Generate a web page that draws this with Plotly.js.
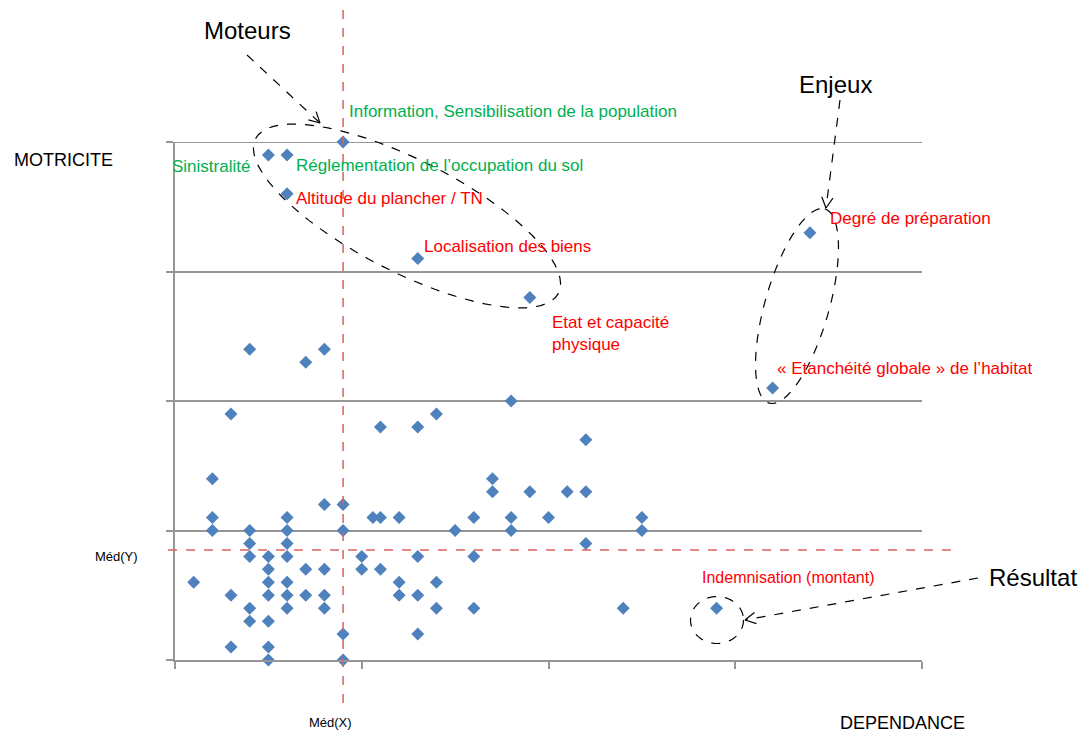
<!DOCTYPE html>
<html>
<head>
<meta charset="utf-8">
<script src="https://cdn.plot.ly/plotly-3.0.1.min.js"></script>
<style>html,body{margin:0;padding:0;background:#fff;}</style>
</head>
<body>
<div id="chart" style="width:1083px;height:735px;"></div>
<script>
// DEPENDANCE (x) and MOTRICITE (y) of each variable
const dependance = [3,11,13,14,2,2,2,8,9,6,10.6,11,12,4,6,9,15,4,6,4,5,6,10,13,5,7,8,10,11,1,5,6,12,14,3,5,6,7,8,12,13,4,6,8,14,4,5,9,13,3,5,5,9,18,22,17,17,19,21,22,16,18,20,25,18,25,22,16,16,24,9,5,6,6,13,19,4,7,8,34,32,29];
const motricite  = [19,18,18,19,14,11,10,12,12,11,11,11,11,10,10,10,10,9,9,8,8,8,8,8,7,7,7,7,7,6,6,6,6,6,5,5,5,5,5,5,5,4,4,4,4,3,3,2,2,1,1,0,0,20,17,14,13,13,13,13,11,11,11,11,10,10,9,8,4,4,40,39,39,36,31,28,24,23,24,33,21,4];
const medX = 9;
const medY = 8.5;
const xTicks = [0,10,20,30,40];
const yTicks = [0,10,20,30,40];

// plot area in pixels (for decorations)
const L = 175, R = 922, T = 142, B = 660;
function P(px, py){ return [(px-L)/(R-L), (B-py)/(B-T)]; }

function ellipsePath(cx, cy, a, b, deg){
  const th = deg*Math.PI/180; let s = '';
  for(let i=0;i<=72;i++){
    const t = i/72*2*Math.PI;
    const px = cx + a*Math.cos(t)*Math.cos(th) - b*Math.sin(t)*Math.sin(th);
    const py = cy + a*Math.cos(t)*Math.sin(th) + b*Math.sin(t)*Math.cos(th);
    const p = P(px, py);
    s += (i===0?'M':'L') + p[0].toFixed(5) + ',' + p[1].toFixed(5) + ' ';
  }
  return s + 'Z';
}

const GRID = '#969696';
const shapes = [];
// top grid line at y = 40
shapes.push({type:'line', xref:'paper', yref:'y', x0:0, x1:1, y0:yTicks[yTicks.length-1], y1:yTicks[yTicks.length-1],
  line:{color:GRID, width:2}, layer:'below'});

function dashedLine(x0,y0,x1,y1){
  const a = P(x0,y0), b = P(x1,y1);
  shapes.push({type:'line', xref:'paper', yref:'paper', x0:a[0], y0:a[1], x1:b[0], y1:b[1],
    line:{color:'#000', width:1.2, dash:'dash'}});
}
function arrow(x0,y0,x1,y1){
  dashedLine(x0,y0,x1,y1);
  const dx = x1-x0, dy = y1-y0, len = Math.hypot(dx,dy);
  const ux = dx/len, uy = dy/len, Lh = 12, ang = 28*Math.PI/180;
  [ang,-ang].forEach(g=>{
    const rx = ux*Math.cos(g) - uy*Math.sin(g), ry = ux*Math.sin(g) + uy*Math.cos(g);
    const a = P(x1,y1), b = P(x1 - Lh*rx, y1 - Lh*ry);
    shapes.push({type:'line', xref:'paper', yref:'paper', x0:a[0], y0:a[1], x1:b[0], y1:b[1],
      line:{color:'#000', width:1.2}});
  });
}

// median lines
shapes.push({type:'line', xref:'x', yref:'paper', x0:medX, x1:medX, y0:P(0,10)[1], y1:P(0,712)[1],
  line:{color:'#d9625e', width:1.5, dash:'dash'}});
shapes.push({type:'line', xref:'paper', yref:'y', x0:P(168,0)[0], x1:P(958,0)[0], y0:medY, y1:medY,
  line:{color:'#d9625e', width:1.5, dash:'dash'}});

// ellipses
shapes.push({type:'path', xref:'paper', yref:'paper', path:ellipsePath(407,216,170,56,27), line:{color:'#000', width:1.2, dash:'dash'}});
shapes.push({type:'path', xref:'paper', yref:'paper', path:ellipsePath(797,306,101,32,-74), line:{color:'#000', width:1.2, dash:'dash'}});
shapes.push({type:'path', xref:'paper', yref:'paper', path:ellipsePath(717,620,26.5,23.5,0), line:{color:'#000', width:1.2, dash:'dash'}});

// arrows
arrow(247,55,320,123);
arrow(840,100,826,208);
arrow(978,578,745,620);

const FONT = 'Liberation Sans, Arial, sans-serif';
const annotations = [];
function txt(text, px, py, size, color, anchor){
  const p = P(px,py);
  annotations.push({text:text, xref:'paper', yref:'paper', x:p[0], y:p[1], xanchor:anchor||'left', yanchor:'middle',
    showarrow:false, align:'left', font:{family:FONT, size:size, color:color}});
}
const GREEN = '#00b050', RED = '#ff0000';
txt('Moteurs', 247, 30, 24, '#000', 'center');
txt('Enjeux', 835, 84, 24, '#000', 'center');
txt('Résultat', 1033, 577, 24, '#000', 'center');
txt('MOTRICITE', 63, 160, 18, '#000', 'center');
txt('DEPENDANCE', 902, 723, 18, '#000', 'center');
txt('Méd(Y)', 116, 556, 13, '#000', 'center');
txt('Méd(X)', 330, 722, 13, '#000', 'center');
txt('Information, Sensibilisation de la population', 347, 111, 17, GREEN);
txt('Sinistralité', 170, 166, 17, GREEN);
txt('Réglementation de l’occupation du sol', 294, 165, 17, GREEN);
txt('Altitude du plancher / TN', 294, 198, 17, RED);
txt('Localisation des biens', 422, 246, 17, RED);
txt('Etat et capacité<br>physique', 550, 333, 17, RED);
txt('Degré de préparation', 828, 218, 17, RED);
txt('« Etanchéité globale » de l’habitat', 775, 368, 17, RED);
txt('Indemnisation (montant)', 700, 577, 16, RED);

const trace = {
  x: dependance, y: motricite, type:'scatter', mode:'markers', cliponaxis:false,
  marker:{symbol:'diamond', size:10, color:'#4f81bd'}, hoverinfo:'x+y'
};

const layout = {
  width:1083, height:735,
  margin:{l:L, r:1083-R, t:T, b:735-B},
  paper_bgcolor:'#fff', plot_bgcolor:'#fff',
  showlegend:false,
  xaxis:{range:[0,40], tickvals:xTicks, showticklabels:false, showgrid:false, zeroline:false,
    showline:true, linecolor:GRID, linewidth:2, ticks:'outside', ticklen:7, tickcolor:GRID, tickwidth:2},
  yaxis:{range:[0,40], tickvals:yTicks, showticklabels:false, showgrid:true, gridcolor:GRID, gridwidth:2, zeroline:false,
    showline:true, linecolor:GRID, linewidth:2, ticks:'outside', ticklen:7, tickcolor:GRID, tickwidth:2},
  shapes:shapes, annotations:annotations
};
Plotly.newPlot('chart', [trace], layout, {displayModeBar:false, staticPlot:true});
</script>
</body>
</html>
